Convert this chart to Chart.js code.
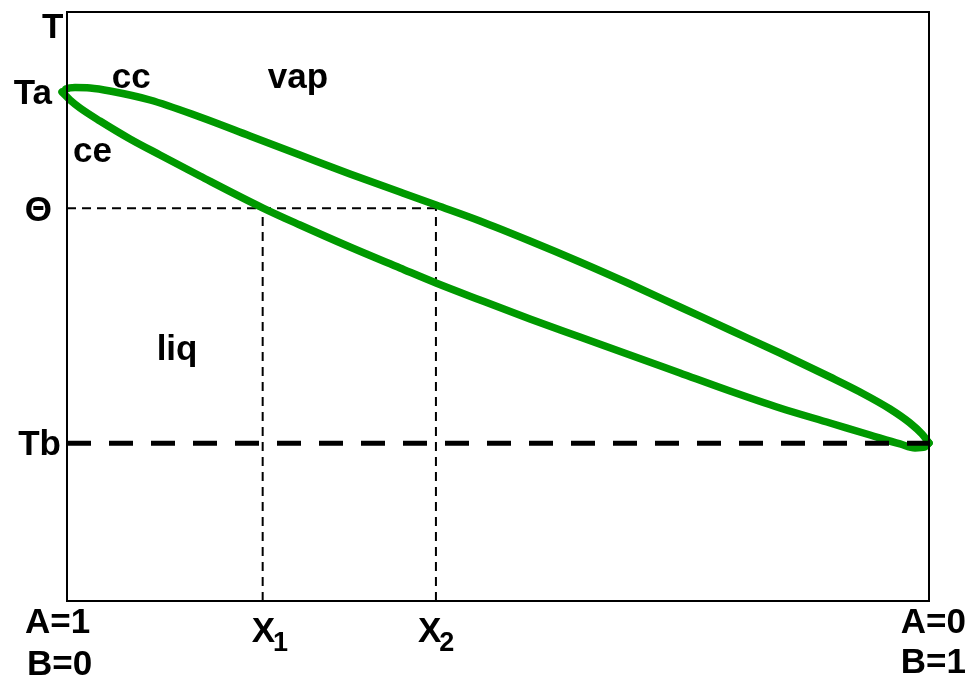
<!DOCTYPE html>
<html>
<head>
<meta charset="utf-8">
<script src="https://cdn.jsdelivr.net/npm/chart.js@4"></script>
<style>
  body{margin:0;background:#fff;}
  #wrap{width:971px;height:679px;position:relative;}
</style>
</head>
<body>
<div id="wrap"><canvas id="c"></canvas></div>
<script>
// composition axis: 0 = pure A (left), 100 = pure B (right); T axis 0..100
const TA = 86.4, TB = 26.8, THETA = 66.7;
const X1 = 22.7, X2 = 42.8;

// dew curve (cc, upper) and bubble curve (ce, lower)
const ccX = [-0.58, -0.12, 0.93, 2.67, 4.99, 9.63, 15.43, 21.23, 27.03, 32.83, 38.63, 42.81, 47.91, 53.71, 59.51, 65.31, 71.11, 76.91, 82.71, 88.52, 92.0, 95.48, 97.8, 99.19, 100];
const ccY = [86.42, 86.93, 87.18, 87.1, 86.59, 85.06, 82.17, 78.95, 75.72, 72.5, 69.44, 67.23, 64.52, 61.12, 57.56, 53.82, 49.92, 46.01, 42.11, 38.03, 35.48, 32.6, 30.22, 28.35, 26.83];
const ceX = [-0.58, 0.35, 1.51, 3.83, 7.31, 10.79, 15.43, 22.74, 27.03, 32.83, 38.63, 42.81, 47.91, 53.71, 59.51, 65.31, 71.11, 76.91, 82.71, 88.52, 93.16, 96.64, 98.38, 99.54, 100];
const ceY = [86.42, 85.06, 83.7, 81.49, 78.44, 75.72, 72.16, 66.72, 63.84, 60.1, 56.54, 53.99, 51.1, 47.88, 44.82, 41.77, 38.71, 35.65, 32.77, 30.22, 28.18, 26.66, 25.98, 26.15, 26.83];

const yLabels = ['T', 'Ta', 'Θ', 'Tb'];
const regionLabels = [
  {t:'cc', x:5.2, y:87.1},
  {t:'vap', x:23.3, y:87.1},
  {t:'ce', x:0.7, y:74.5},
  {t:'liq', x:10.4, y:40.9}
];

const pts = (xs, ys) => xs.map((x,i)=>({x, y: ys[i]}));
const FONT = 'bold 35px "Liberation Sans", Arial, sans-serif';
const SUB = 'bold 27px "Liberation Sans", Arial, sans-serif';

const labelsPlugin = {
  id:'labels',
  afterDraw(chart){
    const {ctx, chartArea:a, scales:{x, y}} = chart;
    ctx.save();
    // frame
    ctx.strokeStyle = '#000'; ctx.lineWidth = 2;
    ctx.strokeRect(a.left, a.top, a.right-a.left, a.bottom-a.top);
    ctx.fillStyle = '#000';
    ctx.font = FONT;
    ctx.textBaseline = 'alphabetic';
    // y side labels
    ctx.textAlign = 'left';
    ctx.fillText(yLabels[0], a.left-25, a.top+26);
    ctx.textAlign = 'right';
    ctx.fillText(yLabels[1], a.left-15, y.getPixelForValue(TA)+12);
    ctx.fillText(yLabels[2], a.left-15, y.getPixelForValue(THETA)+13);
    ctx.fillText(yLabels[3], a.left-6, y.getPixelForValue(TB)+12);
    // x side labels
    ctx.textAlign = 'left';
    ctx.fillText('A=1', 25, a.bottom+32);
    ctx.fillText('B=0', 27, a.bottom+74);
    ctx.textAlign = 'right';
    ctx.fillText('A=0', 966, a.bottom+32);
    ctx.fillText('B=1', 966, a.bottom+72);
    ctx.textAlign = 'left';
    [[X1,'1',-11],[X2,'2',-18]].forEach(([v,s,dx])=>{
      const px = x.getPixelForValue(v);
      ctx.font = FONT;
      ctx.fillText('X', px+dx, a.bottom+41);
      const w = ctx.measureText('X').width;
      ctx.font = SUB;
      ctx.fillText(s, px+dx+w-2, a.bottom+50);
    });
    // region labels
    ctx.font = FONT;
    regionLabels.forEach(r=>{
      ctx.fillText(r.t, x.getPixelForValue(r.x), y.getPixelForValue(r.y));
    });
    ctx.restore();
  }
};

const curve = {showLine:true, borderColor:'#009900', borderWidth:7.5, cubicInterpolationMode:'monotone',
  borderCapStyle:'round', borderJoinStyle:'round', pointRadius:0, clip:false, order:1};

new Chart(document.getElementById('c'), {
  type:'scatter',
  data:{ datasets:[
    { label:'Tb', data:[{x:0,y:TB},{x:100,y:TB}], showLine:true, borderColor:'#000', borderWidth:5, borderDash:[24,18], pointRadius:0, order:0 },
    Object.assign({ label:'cc', data:pts(ccX, ccY) }, curve),
    Object.assign({ label:'ce', data:pts(ceX, ceY) }, curve),
    { label:'theta', data:[{x:0,y:THETA},{x:X2,y:THETA}], showLine:true, borderColor:'#000', borderWidth:2, borderDash:[9,6], pointRadius:0, order:2 },
    { label:'x1', data:[{x:X1,y:0},{x:X1,y:THETA}], showLine:true, borderColor:'#000', borderWidth:2, borderDash:[9,6], pointRadius:0, order:2 },
    { label:'x2', data:[{x:X2,y:0},{x:X2,y:THETA}], showLine:true, borderColor:'#000', borderWidth:2, borderDash:[9,6], pointRadius:0, order:2 }
  ]},
  options:{
    responsive:true, maintainAspectRatio:false, animation:false,
    layout:{ padding:{ left:67, right:42, top:12, bottom:78 } },
    plugins:{ legend:{display:false}, tooltip:{enabled:false} },
    scales:{
      x:{ type:'linear', min:0, max:100, display:false },
      y:{ type:'linear', min:0, max:100, display:false }
    }
  },
  plugins:[labelsPlugin]
});
</script>
</body>
</html>
